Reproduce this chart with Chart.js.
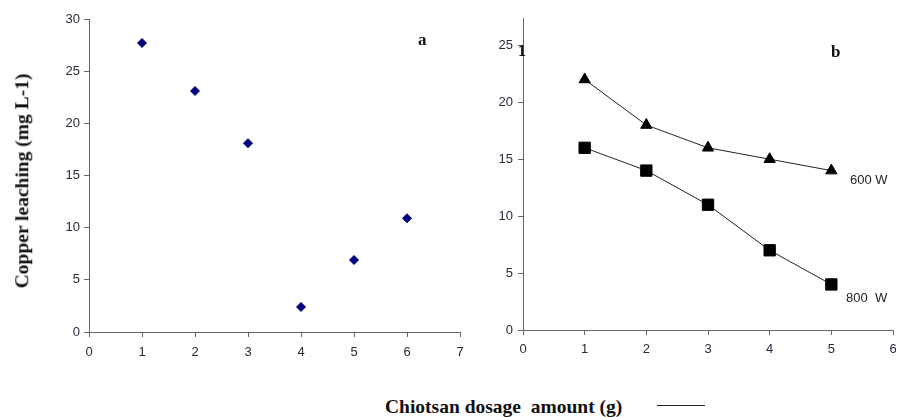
<!DOCTYPE html>
<html>
<head>
<meta charset="utf-8">
<script src="https://cdn.jsdelivr.net/npm/chart.js@4"></script>
<style>
  html, body { margin:0; padding:0; background:#fff; }
  #wrap { position:relative; width:902px; height:417px; overflow:hidden; }
  canvas { position:absolute; }
  .t { position:absolute; white-space:pre; line-height:1; }
  .serif { font-family:"Liberation Serif","DejaVu Serif",serif; font-weight:bold; color:#111; }
  .sans { font-family:"Liberation Sans",Arial,sans-serif; color:#222; font-size:13px; }
</style>
</head>
<body>
<div id="wrap">
  <canvas id="ca" width="470" height="360" style="left:0;top:0;width:470px;height:360px"></canvas>
  <canvas id="cb" width="432" height="360" style="left:470px;top:0;width:432px;height:360px"></canvas>
  <div class="t serif" style="font-size:19.5px;left:22px;top:181px;transform:translate(-50%,-50%) rotate(-90deg);">Copper leaching (mg L-1)</div>
  <div class="t serif" style="font-size:19.5px;left:385px;top:397px;">Chiotsan dosage  amount (g)</div>
  <div style="position:absolute;left:657px;top:405px;width:48px;height:1px;background:#222;"></div>
  <div class="t serif" style="font-size:17px;left:418px;top:31px;">a</div>
  <div class="t serif" style="font-size:17px;left:831px;top:43px;">b</div>
  <div class="t serif" style="font-size:16px;left:518px;top:43px;">1</div>
  <div class="t sans" style="left:850px;top:173px;">600 W</div>
  <div class="t sans" style="left:846px;top:291px;">800  W</div>
</div>
<script>
// Panel a
const dosageA = [1, 2, 3, 4, 5, 6];
const leachingA = [27.7, 23.1, 18.1, 2.4, 6.9, 10.9];
// Panel b
const dosageB = [1, 2, 3, 4, 5];
const leaching600W = [22, 18, 16, 15, 14];
const leaching800W = [16, 14, 11, 7, 4];

const tickFont = { family: "'Liberation Sans', Arial, sans-serif", size: 13 };
const axisColor = '#666';

function axis(min, max, step, pad, extra) {
  return Object.assign({
    type: 'linear', min: min, max: max,
    ticks: { stepSize: step, color: '#2a2a3a', font: tickFont, padding: pad },
    grid: { drawOnChartArea: false, drawTicks: true, tickLength: 5, color: axisColor },
    border: { display: true, color: axisColor, width: 1 }
  }, extra || {});
}
function fixX(h) { return s => { s.height = h; s.paddingLeft = 0; s.paddingRight = 0; }; }
function fixY(w) { return s => { s.width = w; s.paddingTop = 0; s.paddingBottom = 0; }; }

function pts(xs, ys) { return xs.map((x, i) => ({ x: x, y: ys[i] })); }

new Chart(document.getElementById('ca'), {
  type: 'scatter',
  data: { datasets: [{
    data: pts(dosageA, leachingA),
    pointStyle: 'rectRot', pointRadius: 4.5,
    backgroundColor: '#000080', borderColor: '#000080', borderWidth: 1
  }]},
  options: {
    responsive: false, animation: false, events: [],
    layout: { padding: { top: 19, right: 10, left: 0, bottom: 0 } },
    plugins: { legend: { display: false }, tooltip: { enabled: false } },
    scales: {
      x: axis(0, 7, 1, 8, { afterFit: fixX(28) }),
      y: axis(0, 30, 5, 4, { afterFit: fixY(89) })
    }
  }
});
new Chart(document.getElementById('cb'), {
  type: 'scatter',
  data: { datasets: [
    { data: pts(dosageB, leaching600W), showLine: true, borderColor: '#222', borderWidth: 1,
      pointStyle: 'triangle', pointRadius: 6.5, backgroundColor: '#000', pointBorderColor: '#000' },
    { data: pts(dosageB, leaching800W), showLine: true, borderColor: '#222', borderWidth: 1,
      pointStyle: 'rect', pointRadius: 8, backgroundColor: '#000', pointBorderColor: '#000' }
  ]},
  options: {
    responsive: false, animation: false, events: [],
    layout: { padding: { top: 18, right: 6, left: 0, bottom: 0 } },
    plugins: { legend: { display: false }, tooltip: { enabled: false } },
    scales: {
      x: axis(0, 6, 1, 7, { afterFit: fixX(30) }),
      y: axis(0, 27.4, 5, 5, { afterFit: fixY(53),
        afterBuildTicks: s => { s.ticks = [0,5,10,15,20,25].map(v => ({ value: v })); } })
    }
  }
});
</script>
</body>
</html>
